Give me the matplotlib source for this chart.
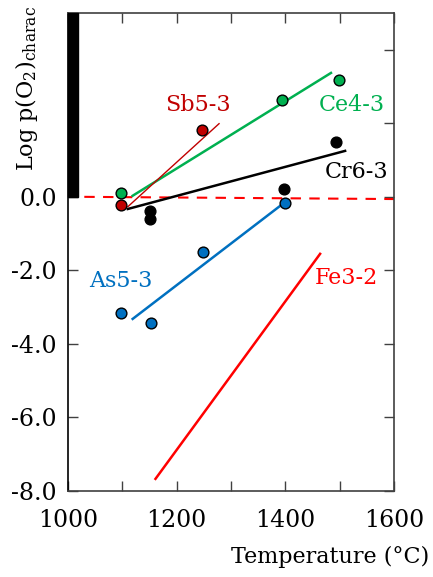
"""Characteristic oxygen partial pressure vs temperature."""

import matplotlib

matplotlib.use("Agg")
import matplotlib.pyplot as plt
import matplotlib.transforms as mtransforms
from matplotlib.patches import Rectangle

plt.rcParams["font.family"] = ["DejaVu Serif"]
plt.rcParams["mathtext.fontset"] = "dejavuserif"

# measured points (temperature in C, log pO2)
ce_t = [1097, 1393, 1499]
ce_y = [0.10, 2.64, 3.18]
sb_t = [1097, 1247]
sb_y = [-0.22, 1.82]
cr_t = [1150, 1150, 1398, 1494]
cr_y = [-0.38, -0.60, 0.22, 1.50]
as_t = [1097, 1152, 1249, 1399]
as_y = [-3.16, -3.43, -1.50, -0.16]

# fitted lines (end points)
ce_fit_t = [1119, 1484]
ce_fit_y = [0.03, 3.37]
sb_fit_t = [1110, 1278]
sb_fit_y = [-0.27, 1.99]
cr_fit_t = [1110, 1510]
cr_fit_y = [-0.33, 1.25]
as_fit_t = [1119, 1398]
as_fit_y = [-3.32, -0.16]
fe_fit_t = [1161, 1464]
fe_fit_y = [-7.67, -1.55]
ref_t = [1030, 1600]
ref_y = [0.0, -0.06]

x_ticks = [1000, 1100, 1200, 1300, 1400, 1500, 1600]
x_labels = ["1000", "", "1200", "", "1400", "", "1600"]
y_ticks = [-8, -6, -4, -2, 0, 2, 4]
y_labels = ["-8.0", "-6.0", "-4.0", "-2.0", "0.0", "", ""]

GREEN = "#00B050"
DARKRED = "#C00000"
BLUE = "#0070C0"
RED = "#FF0000"

fig = plt.figure(figsize=(4.33, 5.77), dpi=100)
ax = fig.add_axes([68 / 433, 1 - 491 / 577, (394 - 68) / 433, (491 - 13) / 577])

ax.plot(ref_t, ref_y, color=RED, lw=1.5, ls=(0, (5, 4)), zorder=2)
ax.plot(ce_fit_t, ce_fit_y, color=GREEN, lw=1.8, zorder=2)
ax.plot(sb_fit_t, sb_fit_y, color=DARKRED, lw=1.0, zorder=2)
ax.plot(cr_fit_t, cr_fit_y, color="black", lw=1.8, zorder=2)
ax.plot(as_fit_t, as_fit_y, color=BLUE, lw=1.8, zorder=2)
ax.plot(fe_fit_t, fe_fit_y, color=RED, lw=1.8, zorder=2)

mk = dict(s=60, edgecolors="black", linewidths=1.0, zorder=3)
ax.scatter(ce_t, ce_y, color=GREEN, **mk)
ax.scatter(sb_t, sb_y, color=DARKRED, **mk)
ax.scatter(cr_t, cr_y, color="black", **mk)
ax.scatter(as_t, as_y, color=BLUE, **mk)

fs = 16
ax.text(1240, 2.5, "Sb5-3", color=DARKRED, fontsize=fs, ha="center", va="center")
ax.text(1522, 2.5, "Ce4-3", color=GREEN, fontsize=fs, ha="center", va="center")
ax.text(1532, 0.68, "Cr6-3", color="black", fontsize=fs, ha="center", va="center")
ax.text(1097, -2.3, "As5-3", color=BLUE, fontsize=fs, ha="center", va="center")
ax.text(1512, -2.2, "Fe3-2", color=RED, fontsize=fs, ha="center", va="center")

# thick bar on the left spine above zero
trans = mtransforms.blended_transform_factory(ax.transAxes, ax.transData)
ax.add_patch(Rectangle((0, 0), 0.03, 5, transform=trans, color="black",
                       clip_on=False, zorder=4))

ax.set_xlim(1000, 1600)
ax.set_ylim(-8, 5)
ax.set_xticks(x_ticks)
ax.set_xticklabels(x_labels)
ax.set_yticks(y_ticks)
ax.set_yticklabels(y_labels)
ax.tick_params(direction="in", length=7, width=1, labelsize=17,
               top=True, right=True, color="#404040")
ax.tick_params(axis="x", pad=13)
ax.tick_params(axis="y", pad=8)
for side in ["top", "right", "bottom"]:
    ax.spines[side].set_color("#404040")
    ax.spines[side].set_linewidth(1.2)
ax.spines["left"].set_linewidth(1.2)

fig.text(27 / 433, 1 - 89 / 577, r"Log p(O$_2$)$_{\mathrm{charac}}$", rotation=90,
         ha="center", va="center", fontsize=fs)
fig.text(330 / 433, 1 - 557 / 577, "Temperature (°C)", ha="center", va="center",
         fontsize=fs)

fig.savefig("out.png", dpi=100)
plt.close(fig)
